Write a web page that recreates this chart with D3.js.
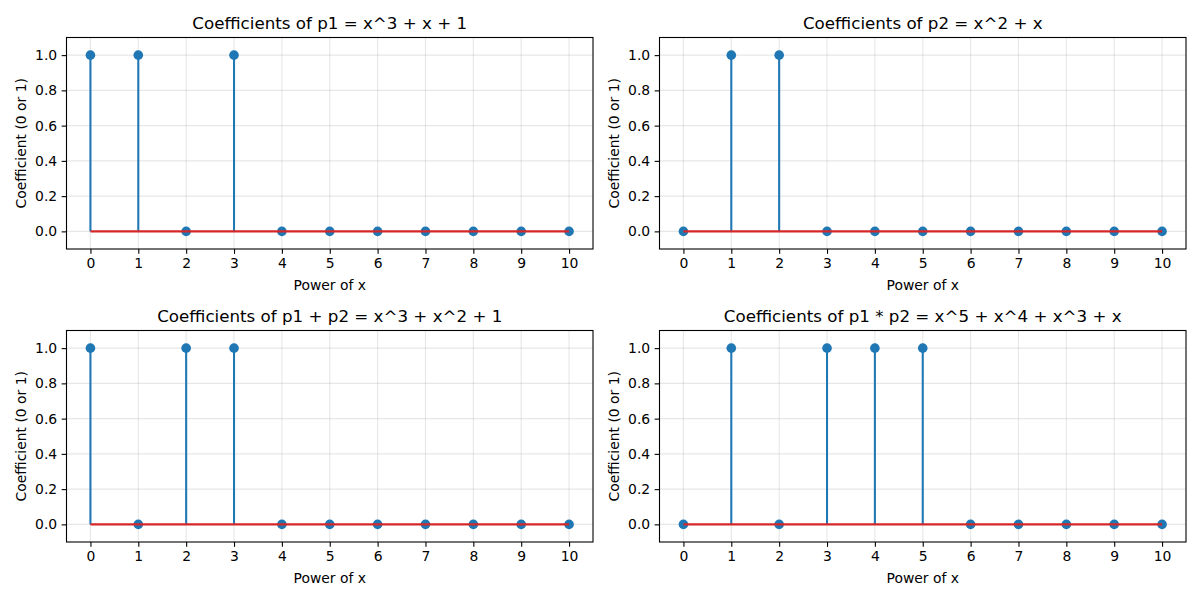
<!DOCTYPE html>
<html><head><meta charset="utf-8">
<script src="https://cdn.jsdelivr.net/npm/d3@7"></script>
<style>body{margin:0;background:#fff}svg{display:block}text{font-family:"DejaVu Sans",sans-serif;fill:#000}</style>
</head><body><svg id="c" width="1200" height="600"></svg>
<script>
const powers = [0,1,2,3,4,5,6,7,8,9,10];
const p1 = [1,1,0,1,0,0,0,0,0,0,0];
const p2 = [0,1,1,0,0,0,0,0,0,0,0];
const pSum = [1,0,1,1,0,0,0,0,0,0,0];
const pProd = [0,1,0,1,1,1,0,0,0,0,0];
const titles = ["Coefficients of p1 = x^3 + x + 1","Coefficients of p2 = x^2 + x","Coefficients of p1 + p2 = x^3 + x^2 + 1","Coefficients of p1 * p2 = x^5 + x^4 + x^3 + x"];
const yTicks = [0,0.2,0.4,0.6,0.8,1.0];
const xLabel = "Power of x", yLabel = "Coefficient (0 or 1)";
const series = [p1,p2,pSum,pProd];

const svg = d3.select("#c");
const panels = [
  {x0:66.5,x1:593,y0:37.5,y1:249},
  {x0:659.5,x1:1186,y0:37.5,y1:249},
  {x0:66.5,x1:593,y0:330.5,y1:542},
  {x0:659.5,x1:1186,y0:330.5,y1:542}
];
panels.forEach((p,i)=>{
  const data = series[i];
  const x = d3.scaleLinear().domain([-0.5,10.5]).range([p.x0,p.x1]);
  const y = d3.scaleLinear().domain([-0.1,1.1]).range([p.y1,p.y0]);
  const g = svg.append("g");
  // grid
  g.selectAll(".gx").data(powers).join("line")
    .attr("x1",d=>x(d)).attr("x2",d=>x(d)).attr("y1",p.y0).attr("y2",p.y1)
    .attr("stroke","#b0b0b0").attr("stroke-opacity",0.3).attr("stroke-width",1.1);
  g.selectAll(".gy").data(yTicks).join("line")
    .attr("y1",d=>y(d)).attr("y2",d=>y(d)).attr("x1",p.x0).attr("x2",p.x1)
    .attr("stroke","#b0b0b0").attr("stroke-opacity",0.3).attr("stroke-width",1.1);
  // stems
  g.selectAll(".stem").data(powers).join("line")
    .attr("x1",d=>x(d)).attr("x2",d=>x(d)).attr("y1",y(0)).attr("y2",(d,j)=>y(data[j]))
    .attr("stroke","#1f77b4").attr("stroke-width",2.08);
  // markers
  g.selectAll(".mk").data(powers).join("circle")
    .attr("cx",d=>x(d)).attr("cy",(d,j)=>y(data[j])).attr("r",4.8)
    .attr("fill","#1f77b4");
  // baseline
  g.append("line").attr("x1",x(0)).attr("x2",x(10)).attr("y1",y(0)).attr("y2",y(0))
    .attr("stroke","#d62728").attr("stroke-width",2.08);
  // axes
  const xa = g.append("g").attr("transform",`translate(0,${p.y1})`)
    .call(d3.axisBottom(x).tickValues(powers).tickFormat(d3.format("d")).tickSize(4.86).tickPadding(4.5));
  const ya = g.append("g").attr("transform",`translate(${p.x0},0)`)
    .call(d3.axisLeft(y).tickValues(yTicks).tickFormat(d3.format(".1f")).tickSize(4.86).tickPadding(4.5));
  [xa,ya].forEach(a=>{
    a.select(".domain").remove();
    a.selectAll("line").attr("stroke","#000").attr("stroke-width",1.1);
    a.selectAll("text").attr("font-size","13.9px").attr("font-family","DejaVu Sans").attr("fill","#000");
  });
  g.append("rect").attr("x",p.x0).attr("y",p.y0).attr("width",p.x1-p.x0).attr("height",p.y1-p.y0)
    .attr("fill","none").attr("stroke","#000").attr("stroke-width",1.1);
  // labels
  const cx=(p.x0+p.x1)/2;
  g.append("text").attr("x",cx).attr("y",p.y0-8.5).attr("text-anchor","middle")
    .attr("font-size","16.7px").text(titles[i]);
  g.append("text").attr("x",cx).attr("y",p.y1+41).attr("text-anchor","middle")
    .attr("font-size","13.9px").text(xLabel);
  g.append("text").attr("transform",`translate(${p.x0-40.5},${(p.y0+p.y1)/2}) rotate(-90)`)
    .attr("text-anchor","middle").attr("font-size","13.9px").text(yLabel);
});
</script></body></html>
